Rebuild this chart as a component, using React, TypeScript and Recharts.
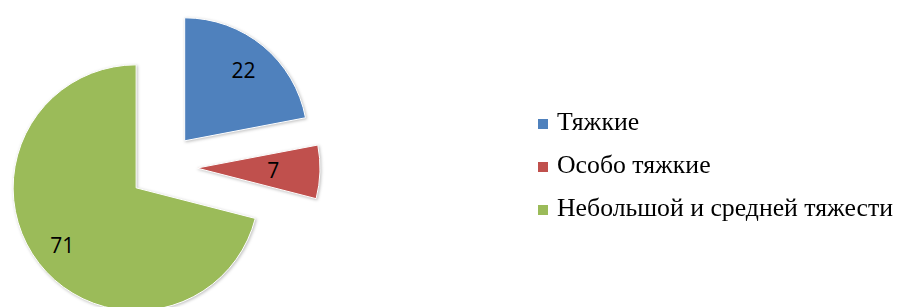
import React from "react";
import { PieChart, Pie, Cell } from "recharts";

const categories = ["Тяжкие", "Особо тяжкие", "Небольшой и средней тяжести"];
const values = [22, 7, 71];
const colors = ["#4F81BD", "#C0504D", "#9BBB59"];

const data = categories.map((name, i) => ({ name, value: values[i] }));

const CX = 163;
const CY = 167;
const R = 123;
const EXPLODE = 34;

const total = values.reduce((a, b) => a + b, 0);
const offsets = values.map((v, i) => {
  const before = values.slice(0, i).reduce((a, b) => a + b, 0);
  const mid = 90 - ((before + v / 2) / total) * 360;
  const rad = (mid * Math.PI) / 180;
  return { dx: EXPLODE * Math.cos(rad), dy: -EXPLODE * Math.sin(rad) };
});

const labelFactor = [0.75, 0.62, 0.76];

const makeLabel = (active: number) => (props: any) => {
  const { cx, cy, midAngle, outerRadius, index, value } = props;
  if (index !== active) return null;
  const rad = (midAngle * Math.PI) / 180;
  const f = labelFactor[active];
  const x = cx + outerRadius * f * Math.cos(rad);
  const y = cy - outerRadius * f * Math.sin(rad);
  return (
    <text
      x={x}
      y={y}
      textAnchor="middle"
      dominantBaseline="central"
      fill="#000"
      fontSize={21}
      fontFamily="'Open Sans', sans-serif"
    >
      {value}
    </text>
  );
};

const serif = "'Liberation Serif', serif";

function LegendBlock() {
  return (
    <div
      style={{
        position: "absolute",
        left: 538,
        top: 109,
        width: 359,
        fontFamily: serif,
        fontSize: 25,
        color: "#000",
        lineHeight: "25px",
      }}
    >
      {categories.map((c, i) => (
        <div key={c} style={{ position: "relative", height: 43, whiteSpace: "nowrap" }}>
          <span
            style={{
              position: "absolute",
              left: 0,
              top: 10,
              width: 10,
              height: 10,
              background: colors[i],
            }}
          />
          <span
            style={{
              position: "absolute",
              left: 19,
              top: 0,
              display: "inline-block",
              transform: "scaleX(1.03)",
              transformOrigin: "0 0",
            }}
          >
            {c}
          </span>
        </div>
      ))}
    </div>
  );
}

export default function App() {
  return (
    <div style={{ position: "absolute", left: 0, top: 0, width: 897, height: 307, background: "#fff" }}>
      <PieChart width={897} height={307} margin={{ top: 0, right: 0, bottom: 0, left: 0 }}>
        {offsets.map((o, k) => (
          <Pie
            key={k}
            data={data}
            dataKey="value"
            nameKey="name"
            cx={CX + o.dx}
            cy={CY + o.dy}
            outerRadius={R}
            startAngle={90}
            endAngle={-270}
            isAnimationActive={false}
            labelLine={false}
            label={makeLabel(k)}
            legendType="none"
          >
            {data.map((d, i) => (
              <Cell
                key={d.name}
                fill={i === k ? colors[i] : "transparent"}
                stroke={i === k ? "#fff" : "none"}
                strokeWidth={1}
                style={i === k ? { filter: "drop-shadow(1px 1px 1.5px rgba(0,0,0,0.25))" } : undefined}
              />
            ))}
          </Pie>
        ))}
      </PieChart>
      <LegendBlock />
    </div>
  );
}
